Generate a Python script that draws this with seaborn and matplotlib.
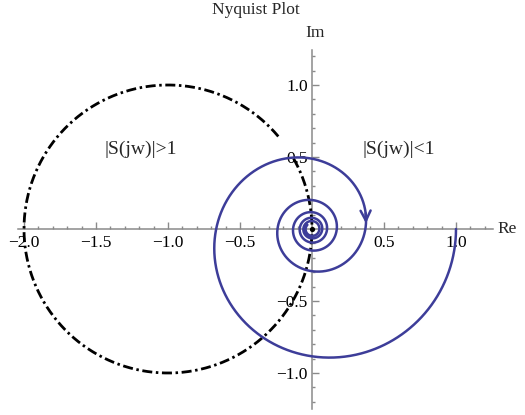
import numpy as np
import pandas as pd
import matplotlib
matplotlib.use("Agg")
import matplotlib.pyplot as plt
import seaborn as sns

# Loop transfer function L(s) = K * exp(-T s) / ((s + 1)(a s + 1))
LOOP_GAIN = 1.0
DEAD_TIME = 2.0
LAG_TIME_CONSTANTS = [1.0, 0.06]
FREQ_RANGE = [0.0, 16.5]          # rad/s
ARROW_PHASE_DEG = -354.0          # where the direction arrow sits on the curve

# |S(jw)| = 1 boundary: unit circle around the critical point -1
CRIT_POINT = [-1.0, 0.0]
CRIT_RADIUS = 1.0
CIRCLE_ARC_DEG = [40.0, 390.0]

REGION_LABELS = ["|S(jw)|>1", "|S(jw)|<1"]
REGION_LABEL_POS = [(-1.19, 0.55), (0.60, 0.55)]

X_MAJOR = [-2.0, -1.5, -1.0, -0.5, 0.5, 1.0]
Y_MAJOR = [-1.0, -0.5, 0.5, 1.0]
X_SPAN = [-2.04, 1.26]
Y_SPAN = [-1.25, 1.24]

BLUE = "#3d3d99"
AXIS_GREY = "#8a8a8a"

sns.set_theme(style="white")
plt.rcParams["font.family"] = ["Liberation Serif", "DejaVu Serif"]
plt.rcParams["axes.unicode_minus"] = True

# frequency response
w = np.linspace(FREQ_RANGE[0], FREQ_RANGE[1], 8000)
s = 1j * w
L = LOOP_GAIN * np.exp(-DEAD_TIME * s)
for tc in LAG_TIME_CONSTANTS:
    L = L / (tc * s + 1.0)
nyq = pd.DataFrame({"re": L.real, "im": L.imag})

theta = np.deg2rad(np.linspace(CIRCLE_ARC_DEG[0], CIRCLE_ARC_DEG[1], 1500))
circ = pd.DataFrame({"re": CRIT_POINT[0] + CRIT_RADIUS * np.cos(theta),
                     "im": CRIT_POINT[1] + CRIT_RADIUS * np.sin(theta)})

fig = plt.figure(figsize=(5.25, 4.15), dpi=100)
ax = fig.add_axes([0, 0, 1, 1])
ax.set_facecolor("white")
ax.set_xlim(-312 / 144, 213 / 144)
ax.set_ylim(-186 / 144, 229 / 144)

sns.lineplot(data=circ, x="re", y="im", sort=False, estimator=None, ax=ax,
             color="black", linewidth=2.0, linestyle=(0, (3.6, 1.3, 0.9, 1.3)),
             zorder=3)
sns.lineplot(data=nyq, x="re", y="im", sort=False, estimator=None, ax=ax,
             color=BLUE, linewidth=1.8, zorder=4)

# point where the |S|=1 circle meets the origin
origin_x = CRIT_POINT[0] + CRIT_RADIUS
origin_y = CRIT_POINT[1]
ax.scatter([origin_x], [origin_y], s=14, color="black", zorder=6, linewidths=0)

# direction arrow on the second crossing of the positive real axis
phase = np.unwrap(np.angle(L))
k = int(np.argmin(np.abs(np.rad2deg(phase) - ARROW_PHASE_DEG)))
ax.annotate("", xy=(nyq.re[k], nyq.im[k]), xytext=(nyq.re[k - 40], nyq.im[k - 40]),
            arrowprops=dict(arrowstyle="->,head_length=0.6,head_width=0.3",
                            color=BLUE, lw=1.8, shrinkA=0, shrinkB=0),
            zorder=5)

# axes through the origin
for side in ["top", "right"]:
    ax.spines[side].set_visible(False)
for side in ["left", "bottom"]:
    ax.spines[side].set_position(("data", 0))
    ax.spines[side].set_color(AXIS_GREY)
    ax.spines[side].set_linewidth(1.1)
    ax.spines[side].set_zorder(2)
ax.spines["bottom"].set_bounds(*X_SPAN)
ax.spines["left"].set_bounds(*Y_SPAN)

def fmt(v):
    return f"{v:.1f}".replace("-", "\u2212")

ax.set_xticks(X_MAJOR)
ax.set_xticklabels([fmt(v) for v in X_MAJOR])
ax.set_yticks(Y_MAJOR)
ax.set_yticklabels([fmt(v) for v in Y_MAJOR])
ax.set_xticks(np.round(np.arange(-2.0, 1.21, 0.1), 2), minor=True)
ax.set_yticks(np.round(np.arange(-1.2, 1.21, 0.1), 2), minor=True)
ax.tick_params(which="both", direction="in", color=AXIS_GREY, width=1.0,
               labelsize=12.5, labelcolor="black")
ax.tick_params(which="major", length=5)
ax.tick_params(which="minor", length=2.5)
ax.tick_params(axis="x", which="both", bottom=True, pad=4)
ax.tick_params(axis="y", which="both", left=True, pad=3)
ax.set_xlabel("")
ax.set_ylabel("")

ax.text(1.285, 0.0, "Re", ha="left", va="center", fontsize=12.5)
ax.text(0.02, 1.36, "Im", ha="center", va="center", fontsize=12.5)
ax.text(-0.39, 1.52, "Nyquist Plot", ha="center", va="center", fontsize=12.5)
for txt, (x, y) in zip(REGION_LABELS, REGION_LABEL_POS):
    ax.text(x, y, txt, ha="center", va="center", fontsize=14)

fig.savefig("out.png", dpi=100)
